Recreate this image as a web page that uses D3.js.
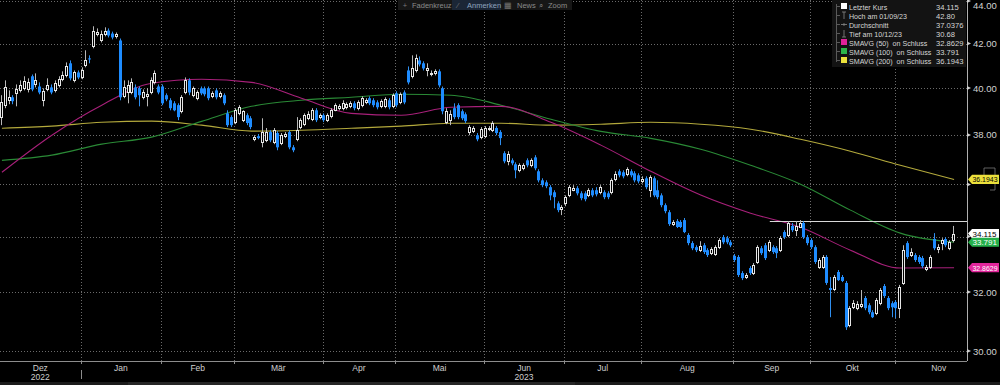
<!DOCTYPE html>
<html><head><meta charset="utf-8">
<script src="https://cdn.jsdelivr.net/npm/d3@7"></script>
<style>body{margin:0;background:#000;} svg{display:block;} text{font-family:"Liberation Sans",Arial,sans-serif;}</style>
</head><body><svg id="c" width="1000" height="385"></svg>
<script>
// ---------------- DATA ----------------
const opens = [
38.75,39.26,39.47,39.60,39.77,39.90,39.99,39.94,40.52,40.16,
40.07,39.47,39.94,40.03,39.90,40.12,40.39,40.56,41.10,40.34,
40.69,40.47,41.01,41.32,41.87,42.42,42.14,42.42,42.60,42.46,
42.33,42.14,39.64,39.81,39.81,40.03,39.99,39.60,39.64,39.81,
40.25,40.07,40.07,39.69,39.47,39.34,39.26,39.00,39.81,40.34,
39.69,39.56,39.99,39.99,39.99,39.64,39.90,39.64,39.69,38.91,
38.75,38.54,38.91,38.62,38.83,38.70,37.82,37.95,37.70,37.78,
38.12,37.70,38.08,37.66,37.95,38.12,37.49,37.82,38.33,38.45,
38.70,38.66,39.04,38.75,38.83,38.62,38.79,39.04,39.13,39.13,
39.17,39.21,39.34,39.13,39.26,39.38,39.56,39.47,39.38,39.21,
39.21,39.47,39.21,39.77,39.38,39.81,40.78,40.52,40.78,41.23,
41.10,40.78,40.60,40.65,40.74,39.99,38.54,38.62,39.13,39.26,
39.00,38.87,38.12,38.16,37.99,37.91,37.95,38.24,38.20,38.29,
38.12,37.25,36.92,36.96,36.80,36.56,36.64,36.96,36.76,37.08,
36.52,36.16,36.08,35.89,35.69,35.26,35.04,35.26,35.57,35.77,
35.85,35.65,35.65,35.57,35.77,35.77,35.69,35.69,35.65,35.69,
36.20,36.52,36.48,36.40,36.52,36.44,36.36,36.12,36.24,35.77,
36.24,35.77,35.57,35.19,34.92,34.47,34.58,34.55,34.62,34.06,
33.76,33.61,33.50,33.68,33.50,33.39,33.36,33.61,33.98,33.94,
33.79,33.29,33.25,32.67,32.53,32.85,32.67,33.07,33.57,33.68,
33.50,33.61,33.57,33.50,34.17,34.06,34.40,34.24,34.36,34.51,
33.98,33.87,33.61,32.89,32.89,33.25,32.14,32.11,32.71,32.53,
32.32,30.86,31.47,31.44,31.51,31.79,31.54,31.30,31.27,31.61,
32.21,31.79,31.61,31.65,31.44,32.32,33.76,33.32,33.32,33.25,
33.21,32.82,32.89,33.91,33.54,33.76,33.91,33.57,33.87];
const highs = [
39.69,40.34,39.90,39.69,40.16,40.34,40.52,40.43,40.60,40.65,
40.25,39.99,40.43,40.16,40.34,40.52,40.74,41.14,41.23,40.78,
40.78,40.92,41.69,41.46,42.80,42.70,42.60,42.75,42.70,42.55,
42.51,42.23,40.34,40.34,40.43,40.16,40.07,39.94,39.99,40.47,
40.78,40.16,40.16,39.77,39.56,39.43,39.34,39.69,40.47,40.43,
40.07,39.90,40.07,40.07,40.07,39.86,39.99,39.86,39.77,39.04,
38.83,39.13,39.26,39.04,38.91,38.79,37.99,38.04,38.70,38.29,
38.20,38.29,38.16,38.08,38.12,38.20,37.58,38.75,38.70,38.91,
39.00,39.13,39.13,38.91,38.91,38.91,39.13,39.34,39.30,39.47,
39.38,39.43,39.43,39.47,39.64,39.56,39.64,39.56,39.47,39.51,
39.60,39.56,39.77,39.86,39.81,39.90,40.96,41.46,41.50,41.41,
41.19,41.10,40.78,40.83,40.83,40.07,39.13,39.04,39.34,39.34,
39.08,38.95,38.41,38.37,38.08,38.33,38.37,38.37,38.58,38.37,
38.20,37.33,37.33,37.04,36.88,36.84,36.84,37.04,37.04,37.17,
36.60,36.24,36.16,35.97,35.77,35.34,35.19,35.57,35.97,35.97,
35.93,35.73,35.73,35.85,35.85,35.89,35.97,35.77,35.73,36.24,
36.52,36.60,36.56,36.68,36.60,36.52,36.44,36.32,36.32,36.36,
36.32,36.16,35.65,35.26,35.00,34.62,34.66,34.62,34.70,34.13,
33.83,33.68,33.83,33.76,33.57,33.61,33.68,33.94,34.06,34.02,
33.87,33.36,33.32,32.74,32.67,32.92,33.03,33.68,33.65,33.76,
33.87,33.68,33.65,34.02,34.24,34.58,34.51,34.58,34.62,34.58,
34.06,33.94,33.68,33.21,33.32,33.32,32.53,32.60,32.78,32.60,
32.39,31.51,31.72,31.68,32.07,31.86,31.61,31.37,31.79,32.14,
32.28,31.86,31.68,31.72,32.25,33.68,33.83,33.57,33.39,33.32,
33.29,32.96,33.32,34.13,33.72,33.94,33.98,33.87,34.40];
const lows = [
38.41,39.13,39.30,39.30,39.21,39.81,39.90,39.81,39.86,40.03,
39.73,39.21,39.86,39.73,39.81,40.03,40.30,40.47,40.34,40.25,
40.39,40.39,40.92,41.10,41.78,42.33,42.05,42.33,42.28,42.19,
42.23,39.47,39.56,39.34,39.73,39.51,39.21,39.51,39.21,39.73,
40.16,39.73,39.26,39.43,39.04,39.00,38.62,38.91,39.73,39.69,
39.60,39.47,39.69,39.64,39.47,39.56,39.51,39.56,39.26,38.33,
38.33,38.45,38.83,38.54,38.41,38.24,37.74,37.82,37.49,37.70,
37.70,37.62,37.37,37.58,37.87,37.41,37.29,37.74,38.24,38.37,
38.62,38.58,38.54,38.66,38.54,38.54,38.70,39.00,39.04,39.04,
39.08,39.13,39.04,39.04,39.17,39.30,39.26,39.17,39.08,39.13,
39.13,39.08,39.13,39.17,39.30,39.30,40.16,40.43,40.69,40.96,
40.78,40.52,40.52,40.56,40.03,38.87,38.45,38.41,38.66,38.66,
38.62,38.50,37.99,38.08,37.74,37.82,37.87,38.16,38.12,37.99,
37.58,36.84,36.76,36.76,36.24,36.48,36.56,36.68,36.68,36.56,
36.08,35.89,35.85,35.38,35.07,34.92,34.81,35.15,35.50,35.73,
35.57,35.38,35.34,35.50,35.50,35.53,35.61,35.42,35.42,35.61,
36.12,36.28,36.24,36.32,36.28,36.08,36.04,36.04,35.81,35.50,
35.50,35.42,35.11,34.88,34.40,34.40,34.32,34.32,34.13,33.68,
33.50,33.43,33.43,33.36,33.25,33.32,33.29,33.54,33.72,33.72,
33.61,33.07,32.53,32.42,32.46,32.60,32.60,33.00,33.32,33.14,
33.43,33.36,33.21,33.43,33.91,33.98,34.17,34.02,34.32,33.91,
33.68,33.54,33.00,32.82,32.82,32.25,31.13,32.03,32.39,32.35,
30.70,30.79,31.41,31.37,31.44,31.37,31.23,31.10,31.20,31.54,
31.79,31.37,31.13,31.10,31.10,32.25,33.18,33.25,33.07,33.00,
32.85,32.74,32.82,33.50,33.39,33.50,33.61,33.50,33.79];
const closes = [
39.38,40.03,39.60,39.43,39.94,40.12,40.30,40.25,39.94,40.34,
39.81,39.86,40.12,39.81,40.21,40.39,40.56,40.96,40.43,40.69,
40.47,40.78,41.23,41.28,42.60,42.51,42.46,42.60,42.37,42.28,
42.42,39.60,40.03,40.12,40.25,39.60,39.69,39.81,39.73,40.34,
40.65,39.81,39.34,39.51,39.13,39.04,38.75,39.60,40.34,39.81,
39.99,39.81,39.77,39.73,39.56,39.77,39.60,39.77,39.34,38.41,
38.41,39.04,39.17,39.00,38.50,38.33,37.91,37.87,38.12,38.12,
37.78,38.20,37.49,37.99,38.04,37.49,37.37,38.20,38.62,38.83,
38.87,39.04,38.62,38.83,38.62,38.83,39.04,39.26,39.21,39.34,
39.30,39.34,39.13,39.38,39.56,39.47,39.34,39.26,39.17,39.43,
39.51,39.17,39.69,39.26,39.73,39.38,40.25,40.87,41.32,41.05,
40.87,40.87,40.65,40.74,40.12,39.00,39.00,38.87,38.75,38.75,
38.70,38.58,38.33,38.29,37.82,38.24,38.29,38.29,38.50,38.08,
37.87,36.92,37.21,36.84,36.56,36.76,36.76,36.76,36.96,36.64,
36.16,35.97,35.93,35.57,35.50,35.00,35.11,35.50,35.89,35.85,
35.65,35.46,35.42,35.77,35.57,35.61,35.89,35.50,35.50,36.16,
36.40,36.36,36.32,36.60,36.36,36.16,36.12,36.20,35.89,36.28,
35.57,35.50,35.19,34.96,34.47,34.55,34.36,34.36,34.17,33.76,
33.57,33.50,33.65,33.43,33.32,33.54,33.61,33.87,33.79,33.79,
33.68,33.14,32.60,32.49,32.60,32.67,32.96,33.61,33.39,33.21,
33.79,33.43,33.39,33.94,33.98,34.51,34.24,34.40,34.51,33.98,
33.76,33.61,33.07,33.14,33.25,32.32,32.07,32.53,32.42,32.39,
30.79,31.44,31.61,31.58,31.58,31.44,31.30,31.13,31.72,32.07,
31.86,31.44,31.47,31.44,32.18,33.50,33.25,33.43,33.14,33.07,
32.92,32.89,33.25,33.57,33.61,33.87,33.68,33.79,34.115];

// moving averages, read at these candle indices
const maIdx  = [0,13,26,39,52,65,78,91,104,117,130,143,156,169,182,195,208,221,234,248];
const ma50   = [36.48,37.99,39.26,40.21,40.39,40.25,39.56,38.91,38.83,39.17,39.21,38.53,37.58,36.52,35.58,34.88,34.35,33.50,32.85,32.8629];
const ma100  = [36.96,37.17,37.62,37.91,38.57,39.21,39.47,39.60,39.73,39.69,39.26,38.66,38.15,37.86,37.41,36.76,36.01,35.00,34.13,33.791];
const ma200  = [38.28,38.37,38.53,38.58,38.41,38.16,38.20,38.28,38.37,38.49,38.49,38.41,38.45,38.53,38.45,38.24,37.82,37.33,36.76,36.1943];

// axis
const yTicks = [30,32,34,36,38,40,42,44];
const monthNames = ["Dez","Jan","Feb","Mär","Apr","Mai","Jun","Jul","Aug","Sep","Okt","Nov"];
const monthStart = [0,21,42,61,84,103,126,147,167,191,211,233];
const periodEnd = 256;
const yearLabels = ["2022","2023"];
const yearMonth = [0,6];

// legend
const legendLabels = ["Letzter Kurs","Hoch am 01/09/23","Durchschnitt","Tief am 10/12/23","SMAVG (50)  on Schluss","SMAVG (100)  on Schluss","SMAVG (200)  on Schluss"];
const legendValues = ["34.115","42.80","37.0376","30.68","32.8629","33.791","36.1943"];
const lastPrice = 34.115;
const hLineValue = 34.58, hLineStart = 200;
const toolbarItems = ["Fadenkreuz","Anmerken","News","Zoom"];

// ---------------- DRAW ----------------
const svg = d3.select("#c");
const PR = 967, PB = 361;
const N = closes.length;
const x = d3.scaleBand().domain(d3.range(N)).range([0,956]).paddingInner(0.25).paddingOuter(0.125);
const step = x.step();
const bnd = k => step*k;               // boundary between candle k-1 and k
const cx = i => x(i) + x.bandwidth()/2;
const y = d3.scaleLog().domain([30,44]).range([351,1]);

function fit(sel, maxW){ sel.each(function(){ const w=this.getComputedTextLength(); if(w>maxW){ d3.select(this).attr("textLength",maxW).attr("lengthAdjust","spacingAndGlyphs"); } }); }

svg.append("rect").attr("width",1000).attr("height",385).attr("fill","#000");

const defs = svg.append("defs");
defs.append("clipPath").attr("id","plot").append("rect").attr("x",0).attr("y",0).attr("width",PR).attr("height",PB);

// grid
const grid = svg.append("g");
grid.selectAll("line.h").data(yTicks).join("line")
  .attr("x1",0).attr("x2",PR).attr("y1",d=>Math.round(y(d))+0.5).attr("y2",d=>Math.round(y(d))+0.5)
  .attr("stroke","#6a6a6a").attr("stroke-dasharray","1,2");
grid.selectAll("line.v").data(monthStart.slice(1)).join("line")
  .attr("x1",d=>Math.round(bnd(d))+0.5).attr("x2",d=>Math.round(bnd(d))+0.5).attr("y1",0).attr("y2",PB)
  .attr("stroke","#6a6a6a").attr("stroke-dasharray","1,2");

const plot = svg.append("g").attr("clip-path","url(#plot)");

// moving averages
const maLine = vals => d3.line().x((d,k)=>cx(maIdx[k])).y(d=>y(d)).curve(d3.curveMonotoneX)(vals);
plot.append("path").attr("d",maLine(ma200)).attr("fill","none").attr("stroke","#b3a93c").attr("stroke-width",1.1);
plot.append("path").attr("d",maLine(ma100)).attr("fill","none").attr("stroke","#2a8a36").attr("stroke-width",1.1);
plot.append("path").attr("d",maLine(ma50)).attr("fill","none").attr("stroke","#a8207a").attr("stroke-width",1.1);

// annotation line
plot.append("line").attr("x1",cx(hLineStart)).attr("x2",PR)
  .attr("y1",Math.round(y(hLineValue))+0.5).attr("y2",Math.round(y(hLineValue))+0.5)
  .attr("stroke","#d8d8d8").attr("stroke-width",1);

// candles
const idx = d3.range(N);
const cg = plot.append("g");
const px = i => Math.round(cx(i));
cg.selectAll("line.w").data(idx).join("line")
  .attr("x1",i=>px(i)-0.5).attr("x2",i=>px(i)-0.5)
  .attr("y1",i=>y(highs[i])).attr("y2",i=>y(lows[i]))
  .attr("stroke",i=>closes[i]>=opens[i] ? "#b8b8b8" : "#2f8ff0").attr("stroke-width",1);
cg.selectAll("rect.b").data(idx.filter(i=>closes[i]<opens[i])).join("rect")
  .attr("x",i=>px(i)-2).attr("width",3)
  .attr("y",i=>y(opens[i])).attr("height",i=>Math.max(1,y(closes[i])-y(opens[i])))
  .attr("fill","#1e8cff");
cg.selectAll("rect.u").data(idx.filter(i=>closes[i]>=opens[i])).join("rect")
  .attr("x",i=>px(i)-1.5).attr("width",2)
  .attr("y",i=>Math.round(y(closes[i]))+0.5).attr("height",i=>Math.max(0.5,Math.round(y(opens[i]))-Math.round(y(closes[i]))))
  .attr("fill","#000").attr("stroke","#e6e6e6").attr("stroke-width",1);

// price tags (values)
const tags = [
  {v:ma200[ma200.length-1], bg:"#ebe03c", fg:"#000"},
  {v:lastPrice, bg:"#ffffff", fg:"#000"},
  {v:ma100[ma100.length-1], bg:"#24b04a", fg:"#fff"},
  {v:ma50[ma50.length-1], bg:"#e3269c", fg:"#fff"}
];
const tagHalf = 4.6;
const covered = v => tags.some(t => Math.abs(y(t.v)-y(v)) < tagHalf+1.5);

// right axis
svg.append("line").attr("x1",PR+0.5).attr("x2",PR+0.5).attr("y1",0).attr("y2",PB).attr("stroke","#b0b0b0");
const ra = svg.append("g");
ra.selectAll("path.t").data(yTicks).join("path")
  .attr("d",d=>`M${PR},${y(d)-2}L${PR+4},${y(d)}L${PR},${y(d)+2}Z`).attr("fill","#cfcfcf");
ra.selectAll("text").data(yTicks.filter(v=>!covered(v))).join("text")
  .attr("x",PR+6).attr("y",d=>Math.max(8.5,y(d)+3.5)).attr("font-size",9.5).attr("fill","#d2d2d2")
  .text(d=>d3.format(".2f")(d));

// small scroll bracket
svg.append("path").attr("d","M984,168 H995 V190 H990 M984,168 V176").attr("fill","none").attr("stroke","#777").attr("stroke-width",0.8);

const tg = svg.append("g");
tags.forEach(t=>{
  const yy = y(t.v);
  tg.append("path").attr("d",`M${PR+1},${yy}L${PR+5},${yy-tagHalf}H${999}V${yy+tagHalf}H${PR+5}Z`).attr("fill",t.bg);
  const tx = tg.append("text").attr("x",PR+5.5).attr("y",yy+3).attr("font-size",8).attr("fill",t.fg).text(String(t.v));
  fit(tx, 25);
});

// bottom axis
svg.append("line").attr("x1",0).attr("x2",PR).attr("y1",PB+0.5).attr("y2",PB+0.5).attr("stroke","#8c8c8c");
const ba = svg.append("g");
ba.selectAll("line").data(monthStart.slice(1)).join("line")
  .attr("x1",d=>Math.round(bnd(d))+0.5).attr("x2",d=>Math.round(bnd(d))+0.5).attr("y1",PB).attr("y2",PB+3).attr("stroke","#8c8c8c");
const ends = monthStart.slice(1).concat([periodEnd]);
ba.selectAll("text.m").data(monthNames).join("text")
  .attr("x",(d,k)=>(bnd(monthStart[k])+bnd(ends[k]))/2).attr("y",371).attr("text-anchor","middle")
  .attr("font-size",8.5).attr("fill","#cfcfcf").text(d=>d);
ba.selectAll("text.yr").data(yearLabels).join("text")
  .attr("x",(d,k)=>{const m=yearMonth[k]; return (bnd(monthStart[m])+bnd(ends[m]))/2;}).attr("y",380).attr("text-anchor","middle")
  .attr("font-size",8.5).attr("fill","#cfcfcf").text(d=>d);
ba.append("line").attr("x1",Math.round(bnd(monthStart[1]))+0.5).attr("x2",Math.round(bnd(monthStart[1]))+0.5)
  .attr("y1",370).attr("y2",379).attr("stroke","#8c8c8c");
svg.append("rect").attr("x",0).attr("y",382).attr("width",1000).attr("height",3).attr("fill","#1b1b1b");
svg.append("rect").attr("x",128).attr("y",382).attr("width",447).attr("height",3).attr("fill","#262626");

// toolbar
const tb = svg.append("g");
tb.append("rect").attr("x",398).attr("y",0).attr("width",174).attr("height",10).attr("fill","#161616");
tb.append("rect").attr("x",452).attr("y",0).attr("width",49).attr("height",10).attr("fill","#1b2636");
const tbX = [412,467,517,548], icX = [405,458,508,541], icons = ["+","⁄","▦","⌕"];
tb.selectAll("text.l").data(toolbarItems).join("text")
  .attr("x",(d,k)=>tbX[k]).attr("y",8).attr("font-size",7.5).attr("fill",(d,k)=>k===1?"#8fa4bf":"#8a8a8a").text(d=>d);
tb.selectAll("text.i").data(icons).join("text")
  .attr("x",(d,k)=>icX[k]).attr("y",8).attr("font-size",7.5).attr("fill","#777").attr("text-anchor","middle").text(d=>d);

// legend
const lg = svg.append("g");
lg.append("rect").attr("x",832).attr("y",0).attr("width",134).attr("height",67).attr("fill","#131313");
lg.append("line").attr("x1",836.5).attr("x2",836.5).attr("y1",4).attr("y2",62).attr("stroke","#5a5a5a");
const rowY = k => 10 + k*9;
const swatch = ["#ffffff",null,null,null,"#e0229a","#2cb54a","#ece23c"];
legendLabels.forEach((lab,k)=>{
  const yy = rowY(k);
  lg.append("line").attr("x1",836.5).attr("x2",840).attr("y1",yy-3.5).attr("y2",yy-3.5).attr("stroke","#5a5a5a");
  if (swatch[k]) lg.append("rect").attr("x",841).attr("y",yy-7).attr("width",6).attr("height",6).attr("fill",swatch[k]);
  else {
    const g = lg.append("g").attr("stroke","#8a8a8a").attr("stroke-width",0.8);
    if (k===1){ g.append("line").attr("x1",844).attr("x2",844).attr("y1",yy-7).attr("y2",yy); g.append("line").attr("x1",842).attr("x2",846).attr("y1",yy-7).attr("y2",yy-7); }
    if (k===2){ g.append("line").attr("x1",841).attr("x2",847).attr("y1",yy-3.5).attr("y2",yy-3.5); g.append("line").attr("x1",844).attr("x2",844).attr("y1",yy-5).attr("y2",yy-2); }
    if (k===3){ g.append("line").attr("x1",844).attr("x2",844).attr("y1",yy-7).attr("y2",yy); g.append("line").attr("x1",842).attr("x2",846).attr("y1",yy).attr("y2",yy); }
  }
  lg.append("text").attr("x",849).attr("y",yy).attr("font-size",7.1).attr("fill","#d6d6d6")
    .attr("xml:space","preserve").style("white-space","pre").text(lab);
  lg.append("text").attr("x",936).attr("y",yy).attr("font-size",7.6).attr("fill","#d6d6d6").text(legendValues[k]);
});
</script>
</body></html>
